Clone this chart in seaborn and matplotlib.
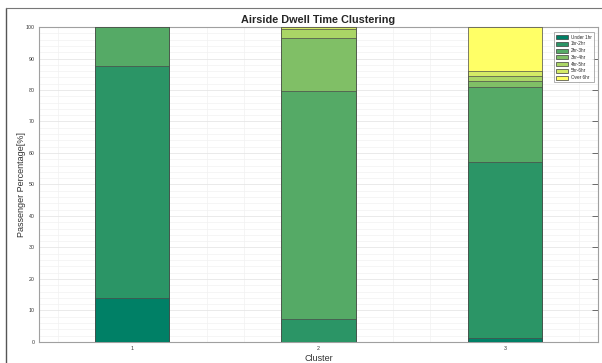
"""
Airside dwell time clustering: stacked passenger share per cluster.
Output: out.png
"""

import matplotlib.pyplot as plt
import numpy as np
import pandas as pd
import seaborn as sns
from matplotlib.lines import Line2D
from matplotlib.patches import Patch
from matplotlib.ticker import MultipleLocator

CLUSTERS = [1, 2, 3]
BANDS = ["Under 1hr", "1hr-2hr", "2hr-3hr", "3hr-4hr", "4hr-5hr", "5hr-6hr", "Over 6hr"]
UNDER_1 = [13.9, 0.0, 1.4]
H1_2 = [73.8, 7.2, 55.6]
H2_3 = [12.3, 72.5, 24.1]
H3_4 = [0.0, 16.9, 1.9]
H4_5 = [0.0, 2.8, 1.3]
H5_6 = [0.0, 0.6, 1.7]
OVER_6 = [0.0, 0.0, 14.0]

# MATLAB "summer" colormap, 7 steps
COLORS = ["#008066", "#2b9566", "#55aa66", "#80bf66", "#aad566", "#d4ea66", "#ffff66"]


def main() -> None:
    shares = pd.DataFrame(
        [UNDER_1, H1_2, H2_3, H3_4, H4_5, H5_6, OVER_6], index=BANDS, columns=CLUSTERS
    )
    tops = shares.cumsum()

    sns.set_style("white")
    plt.rcParams["font.family"] = ["Liberation Sans", "DejaVu Sans"]
    fig = plt.figure(figsize=(6.02, 3.63), dpi=100)
    ax = fig.add_axes([0.0648, 0.0579, 0.9286, 0.8677])

    # overlay cumulative bars from the top band down to fake the stacking
    for band, color in reversed(list(zip(BANDS, COLORS))):
        df = pd.DataFrame({"cluster": CLUSTERS, "top": tops.loc[band].values})
        sns.barplot(
            data=df, x="cluster", y="top", native_scale=True, width=0.4,
            color=color, saturation=1, edgecolor="#4a4a4a", linewidth=0.5,
            ax=ax, zorder=3,
        )

    ax.set_xlim(0.5, 3.5)
    ax.set_ylim(0, 100)
    ax.set_xticks(CLUSTERS)
    ax.set_yticks(np.arange(0, 101, 10))
    ax.xaxis.set_minor_locator(MultipleLocator(0.2))
    ax.yaxis.set_minor_locator(MultipleLocator(2))
    ax.grid(which="major", color="#e6e6e6", linewidth=0.6, zorder=0)
    ax.grid(which="minor", color="#f1f1f1", linewidth=0.5, zorder=0)
    ax.set_axisbelow(True)
    ax.tick_params(which="major", direction="in", length=4, width=0.6,
                   color="#555555", labelsize=3.8, labelcolor="#333333",
                   top=True, right=True, pad=3)
    ax.tick_params(which="minor", length=0)
    for side in ax.spines.values():
        side.set_color("#a0a0a0")
        side.set_linewidth(0.8)

    ax.set_xlabel("Cluster", fontsize=6.5, color="#333333", labelpad=2)
    ax.set_ylabel("Passenger Percentage[%]", fontsize=6.5, color="#333333", labelpad=0)
    ax.set_title("Airside Dwell Time Clustering", fontsize=7.8, fontweight="bold", pad=3)

    handles = [Patch(facecolor=c, edgecolor="#3c3c3c", linewidth=0.5) for c in COLORS]
    leg = ax.legend(handles, BANDS, loc="upper right", fontsize=3.3, frameon=True,
                    handlelength=2.6, handleheight=1.0, labelspacing=0.38,
                    borderpad=0.5, handletextpad=0.6, fancybox=False,
                    bbox_to_anchor=(0.997, 0.99))
    leg.get_frame().set_edgecolor("#8c8c8c")
    leg.get_frame().set_linewidth(0.6)

    # screenshot frame on left and top
    fig.add_artist(Line2D([6 / 602, 6 / 602], [0, 1 - 8 / 363],
                          transform=fig.transFigure, color="#555555", linewidth=1))
    fig.add_artist(Line2D([6 / 602, 1], [1 - 8 / 363, 1 - 8 / 363],
                          transform=fig.transFigure, color="#777777", linewidth=0.8))

    fig.savefig("out.png", dpi=100)
    plt.close(fig)


if __name__ == "__main__":
    main()
